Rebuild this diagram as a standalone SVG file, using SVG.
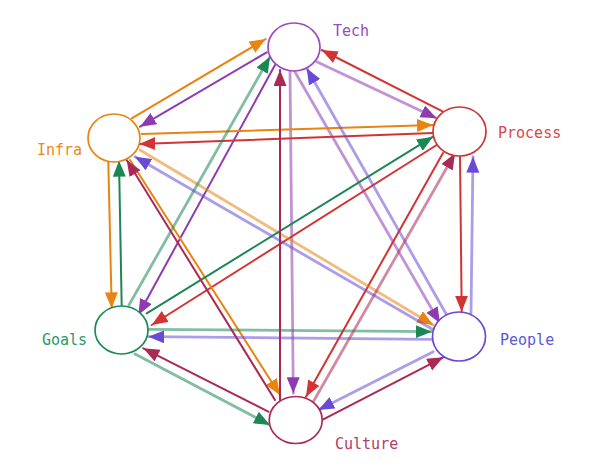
<svg xmlns="http://www.w3.org/2000/svg" width="599" height="474" viewBox="0 0 599 474">
<defs>
<style>
.e{fill:none;stroke-width:2;stroke-linecap:round}
.t{stroke:#8e3bb0}.p{stroke:#d23434}.i{stroke:#e8840f}.g{stroke:#1b8755}.b{stroke:#6a4ad4}.c{stroke:#ab2a55}
.lt{stroke-opacity:.55;stroke-width:2.8}
.n{fill:#fff;stroke-width:1.7}
.lbl{font-family:"DejaVu Sans Mono","Liberation Mono",monospace;font-size:15px}
</style>
<marker id="mt" markerUnits="userSpaceOnUse" markerWidth="17" markerHeight="14" refX="16" refY="6.5" orient="auto"><path d="M0,0 L16,6.5 L0,13 Z" fill="#8e3bb0"/></marker>
<marker id="mp" markerUnits="userSpaceOnUse" markerWidth="17" markerHeight="14" refX="16" refY="6.5" orient="auto"><path d="M0,0 L16,6.5 L0,13 Z" fill="#d23434"/></marker>
<marker id="mi" markerUnits="userSpaceOnUse" markerWidth="17" markerHeight="14" refX="16" refY="6.5" orient="auto"><path d="M0,0 L16,6.5 L0,13 Z" fill="#e8840f"/></marker>
<marker id="mg" markerUnits="userSpaceOnUse" markerWidth="17" markerHeight="14" refX="16" refY="6.5" orient="auto"><path d="M0,0 L16,6.5 L0,13 Z" fill="#1b8755"/></marker>
<marker id="mb" markerUnits="userSpaceOnUse" markerWidth="17" markerHeight="14" refX="16" refY="6.5" orient="auto"><path d="M0,0 L16,6.5 L0,13 Z" fill="#6a4ad4"/></marker>
<marker id="mc" markerUnits="userSpaceOnUse" markerWidth="17" markerHeight="14" refX="16" refY="6.5" orient="auto"><path d="M0,0 L16,6.5 L0,13 Z" fill="#ab2a55"/></marker>
</defs>
<rect width="599" height="474" fill="#fff"/>
<g id="connectors">
<line class="e t" x1="266.7" y1="52.3" x2="140" y2="126.7" marker-end="url(#mt)"/>
<line class="e t" x1="275" y1="65" x2="138.3" y2="315" marker-end="url(#mt)"/>
<line class="e t lt" x1="290" y1="71.7" x2="293.3" y2="393.3" marker-end="url(#mt)"/>
<line class="e t lt" x1="295" y1="72" x2="440" y2="323.3" marker-end="url(#mt)"/>
<line class="e t lt" x1="316.7" y1="61.7" x2="436.7" y2="118.3" marker-end="url(#mt)"/>
<line class="e p" x1="443" y1="111.7" x2="321.7" y2="50" marker-end="url(#mp)"/>
<line class="e p" x1="433" y1="133" x2="139.3" y2="144" marker-end="url(#mp)"/>
<line class="e p" x1="436.7" y1="145" x2="151.7" y2="325" marker-end="url(#mp)"/>
<line class="e p" x1="443" y1="153" x2="306" y2="396.7" marker-end="url(#mp)"/>
<line class="e p" x1="460" y1="156.7" x2="461.7" y2="311.7" marker-end="url(#mp)"/>
<line class="e i" x1="131.7" y1="118.3" x2="265.7" y2="39" marker-end="url(#mi)"/>
<line class="e i" x1="141.7" y1="134" x2="433" y2="125" marker-end="url(#mi)"/>
<line class="e i lt" x1="140" y1="150" x2="433.3" y2="325" marker-end="url(#mi)"/>
<line class="e i" x1="130" y1="160" x2="280" y2="395" marker-end="url(#mi)"/>
<line class="e i" x1="108.3" y1="161.7" x2="111.7" y2="308.3" marker-end="url(#mi)"/>
<line class="e g" x1="121.7" y1="306.7" x2="119" y2="160.7" marker-end="url(#mg)"/>
<line class="e g lt" x1="129" y1="305" x2="270" y2="56.7" marker-end="url(#mg)"/>
<line class="e g" x1="146.7" y1="313.3" x2="433" y2="136.7" marker-end="url(#mg)"/>
<line class="e g lt" x1="148.3" y1="329.3" x2="431.7" y2="331.7" marker-end="url(#mg)"/>
<line class="e g lt" x1="135" y1="354" x2="270" y2="425" marker-end="url(#mg)"/>
<line class="e b lt" x1="471" y1="313" x2="473" y2="156.7" marker-end="url(#mb)"/>
<line class="e b lt" x1="446.7" y1="315" x2="306.7" y2="68.3" marker-end="url(#mb)"/>
<line class="e b lt" x1="432" y1="329" x2="135" y2="156.7" marker-end="url(#mb)"/>
<line class="e b lt" x1="431.7" y1="339.3" x2="148.3" y2="336.7" marker-end="url(#mb)"/>
<line class="e b lt" x1="433.3" y1="351.7" x2="318.3" y2="410" marker-end="url(#mb)"/>
<line class="e c" x1="268.3" y1="411.7" x2="143.3" y2="348.3" marker-end="url(#mc)"/>
<line class="e c" x1="275" y1="400" x2="126.7" y2="160" marker-end="url(#mc)"/>
<line class="e c" x1="280" y1="400" x2="280" y2="70" marker-end="url(#mc)"/>
<line class="e c lt" x1="313.3" y1="401.7" x2="455" y2="153.3" marker-end="url(#mc)"/>
<line class="e c" x1="323.3" y1="419.3" x2="443.3" y2="357.3" marker-end="url(#mc)"/>
</g>
<g id="tech"><ellipse class="n" cx="294" cy="47" rx="26" ry="24" stroke="#9c48c0"/><text class="lbl" x="333" y="36" fill="#9c48c0">Tech</text></g>
<g id="process"><ellipse class="n" cx="459.5" cy="131.5" rx="26.5" ry="24.5" stroke="#d23434"/><text class="lbl" x="498" y="138" fill="#d84848">Process</text></g>
<g id="infra"><ellipse class="n" cx="114" cy="138" rx="26" ry="24" stroke="#e8840f"/><text class="lbl" x="37" y="155" fill="#e8891a">Infra</text></g>
<g id="goals"><ellipse class="n" cx="121.5" cy="330" rx="26.5" ry="24" stroke="#1b8a5a"/><text class="lbl" x="42" y="345" fill="#2a9a6a">Goals</text></g>
<g id="people"><ellipse class="n" cx="459" cy="336.5" rx="26.5" ry="24.5" stroke="#6a4ad4"/><text class="lbl" x="500" y="345" fill="#5a5ad8">People</text></g>
<g id="culture"><ellipse class="n" cx="295.7" cy="420" rx="26.5" ry="23.5" stroke="#ab2a55"/><text class="lbl" x="335" y="449" fill="#b04068">Culture</text></g>
</svg>
